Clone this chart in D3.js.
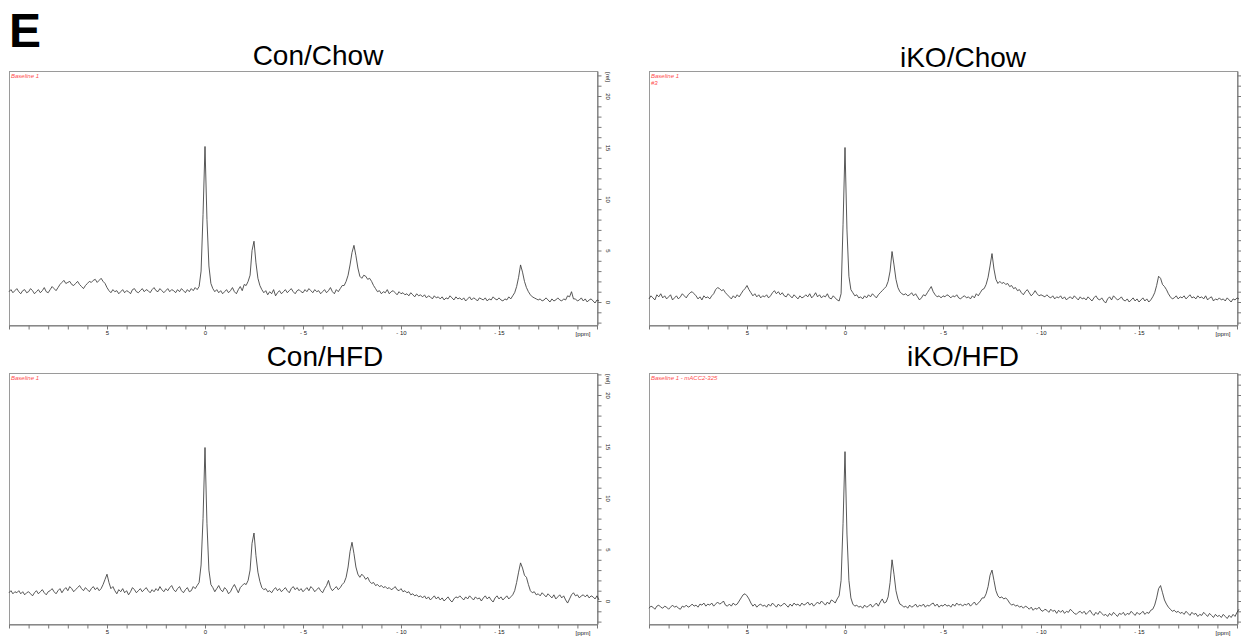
<!DOCTYPE html>
<html><head><meta charset="utf-8">
<script src="https://cdn.jsdelivr.net/npm/d3@7"></script>
<style>html,body{margin:0;padding:0;background:#fff;}svg{display:block;}</style>
</head><body>
<svg id="chart" width="1241" height="638"></svg>
<script>
// ---- data ----
const panelLetter = "E";
const titles = ["Con/Chow", "iKO/Chow", "Con/HFD", "iKO/HFD"];
const notes = [["Baseline 1"], ["Baseline 1", "#3"], ["Baseline 1"], ["Baseline 1 - mACC2-325"]];
const ppmStart = 10;      // first sample (ppm)
const ppmStep = 0.1;      // spacing between samples (ppm)
const xTickLabels = [5, 0, -5, -10, -15];
const yTickLabels = [0, 5, 10, 15, 20];
const xUnit = "[ppm]";
const yUnit = "[rel]";

const conChow = [
1.0,1.2,0.9,1.1,1.3,1.0,0.8,1.1,1.2,0.9,
1.0,1.3,1.1,0.8,1.0,1.2,0.9,1.1,1.4,1.0,
0.9,1.2,1.5,1.3,1.1,1.4,1.7,1.9,2.1,1.8,
1.9,2.0,1.7,1.6,1.8,2.0,1.7,1.5,1.3,1.6,
1.8,2.0,1.9,2.1,2.2,1.9,2.1,2.3,2.0,1.8,
1.4,1.1,0.9,1.2,1.0,1.1,0.8,1.0,1.2,0.9,
1.1,1.0,0.8,1.2,1.3,1.0,0.9,1.1,1.3,1.0,
1.2,1.1,0.9,1.2,1.4,1.1,1.0,1.3,1.1,0.9,
1.1,1.3,1.0,1.2,1.1,0.9,1.2,1.0,1.3,1.1,
0.9,1.2,1.0,1.3,1.1,1.4,1.2,1.5,3.0,8.5,
15.1,
8.0,3.5,1.8,1.3,1.0,1.2,0.9,1.1,0.8,1.0,
1.2,0.9,1.1,1.4,1.0,0.8,1.2,1.5,1.1,1.7,
1.6,2.0,2.6,5.0,5.9,3.8,2.3,1.6,1.2,0.9,
1.1,0.7,1.0,0.8,1.2,0.6,0.9,1.1,0.8,1.0,
1.2,0.9,1.1,1.3,1.0,0.8,1.1,1.2,1.0,0.9,
1.2,1.0,1.3,1.1,0.9,1.2,1.0,1.1,0.8,1.0,
1.2,0.9,1.1,1.4,1.0,0.8,1.2,1.0,1.3,1.6,
1.6,2.0,2.6,3.6,4.8,5.5,4.5,3.3,2.5,2.3,
2.6,2.5,2.2,2.3,2.0,1.6,1.3,1.0,1.1,0.8,
1.0,0.9,1.2,0.8,1.0,1.1,0.9,0.7,1.0,0.8,
0.9,0.7,0.8,0.6,0.9,0.7,0.5,0.8,0.6,0.7,
0.5,0.7,0.4,0.6,0.5,0.3,0.6,0.4,0.5,0.3,
0.5,0.2,0.4,0.3,0.6,0.4,0.2,0.5,0.3,0.4,
0.2,0.4,0.1,0.3,0.5,0.2,0.4,0.3,0.1,0.4,
0.3,0.2,0.4,0.1,0.3,0.2,0.5,0.3,0.2,0.4,
0.2,0.1,0.3,0.2,0.5,0.3,0.6,0.9,1.5,2.4,
3.6,2.9,2.0,1.4,1.0,0.7,0.5,0.4,0.3,0.2,
0.3,0.1,0.2,0.4,0.2,0.0,0.3,0.1,0.2,0.4,
0.2,0.1,0.3,0.2,0.6,0.5,1.0,0.3,0.3,0.1,
0.2,0.4,0.1,0.3,0.0,0.2,0.3,0.1,-0.1,0.2,0.1];

const ikoChow = [
0.3,0.6,0.4,0.2,0.7,0.5,0.8,0.4,0.6,0.3,
0.5,0.7,0.2,0.4,0.6,0.3,0.5,0.8,0.6,0.4,
0.7,0.9,1.0,0.8,0.6,0.3,0.5,0.2,0.6,0.4,
0.5,0.3,0.6,0.8,1.2,1.4,1.3,1.1,1.2,0.9,
0.7,0.5,0.3,0.6,0.4,0.7,0.5,0.8,1.1,1.3,
1.6,1.2,0.9,0.6,0.8,0.5,0.7,0.4,0.6,0.5,
0.7,0.4,0.6,0.9,1.1,0.8,1.0,0.7,0.9,0.6,
0.5,0.8,0.6,0.4,0.7,0.5,0.3,0.6,0.4,0.5,
0.7,0.5,0.8,0.4,0.6,0.9,0.5,0.7,0.4,0.6,
0.5,0.8,0.4,0.3,0.6,0.4,0.2,0.1,0.8,7.5,
15.0,
7.0,2.5,1.2,0.9,0.6,0.7,0.4,0.5,0.3,0.6,
0.4,0.7,0.5,0.8,0.6,0.4,0.7,0.9,1.1,1.3,
1.5,2.0,3.0,4.9,3.6,2.2,1.4,1.0,0.8,0.7,
0.8,0.6,0.7,0.9,0.6,0.8,0.5,0.2,0.4,0.7,
0.6,0.9,1.2,1.5,1.0,0.7,0.5,0.6,0.4,0.6,
0.5,0.7,0.6,0.4,0.6,0.5,0.7,0.4,0.3,0.5,
0.6,0.4,0.5,0.3,0.6,0.4,0.8,0.6,0.9,1.2,
1.3,1.7,2.4,3.5,4.7,3.2,2.2,1.8,2.0,1.8,
1.9,1.7,1.8,1.5,1.6,1.3,1.4,1.1,1.2,0.9,
0.7,1.0,1.2,0.9,0.6,0.8,1.1,0.8,0.6,0.7,
0.6,0.5,0.7,0.5,0.4,0.6,0.3,0.5,0.4,0.6,
0.3,0.5,0.2,0.4,0.5,0.3,0.6,0.4,0.2,0.5,
0.3,0.4,0.2,0.5,0.3,0.1,0.4,0.6,0.3,0.2,
0.4,0.1,-0.1,0.3,0.5,0.2,0.6,0.4,0.2,0.3,
0.5,0.2,0.1,0.3,0.0,0.2,0.4,0.1,0.3,0.0,
0.2,0.4,0.1,0.3,0.0,0.2,0.5,0.9,1.6,2.5,
2.3,1.7,1.5,1.2,0.8,0.5,0.3,0.4,0.6,0.3,
0.5,0.4,0.6,0.3,0.5,0.7,0.4,0.5,0.3,0.6,
0.4,0.5,0.3,0.6,0.2,0.4,0.5,0.1,0.3,0.2,
0.4,0.2,0.3,0.1,0.4,0.2,0.0,0.3,0.2,0.4,0.3];

const conHfd = [
0.8,1.0,0.7,0.9,0.8,1.0,0.7,0.9,0.6,0.8,
0.9,0.7,0.5,0.8,1.0,0.7,0.9,1.1,0.8,0.6,
0.9,1.0,1.2,0.9,0.7,1.0,1.2,0.8,1.1,1.3,
1.0,1.4,1.2,0.9,1.1,1.3,1.5,1.2,1.0,1.3,
1.1,0.9,1.2,1.4,1.1,1.3,1.0,1.2,1.6,2.1,
2.6,1.8,1.2,1.4,1.0,0.7,1.1,0.9,1.2,0.8,
1.0,0.6,0.9,1.3,1.1,0.8,1.0,1.2,0.9,1.1,
1.3,1.0,0.8,1.1,0.9,1.2,1.0,1.4,1.1,0.9,
1.2,1.0,1.3,1.5,1.1,0.9,1.2,1.4,1.0,0.8,
1.1,1.3,0.9,1.0,1.4,1.2,1.5,1.8,3.5,8.0,
14.9,
7.5,3.0,1.6,1.3,0.9,1.2,1.5,1.1,0.9,1.3,
1.1,0.7,0.9,1.3,1.6,1.2,0.8,1.3,1.5,1.7,
1.6,2.0,3.0,5.6,6.6,4.4,2.8,1.9,1.3,1.1,
1.2,0.9,1.0,0.8,1.1,1.3,1.0,1.2,0.9,1.1,
1.3,1.0,0.8,1.2,1.4,1.1,1.3,1.0,1.2,0.9,
1.1,1.3,1.0,1.4,1.2,0.9,1.1,1.3,1.0,0.8,
1.2,1.5,2.0,1.3,1.0,1.2,1.4,1.1,1.3,1.6,
1.8,2.3,3.3,4.8,5.7,4.6,3.3,2.6,2.3,2.6,
2.4,2.1,2.3,1.9,1.7,1.8,1.5,1.6,1.4,1.5,
1.3,1.4,1.2,1.3,1.1,1.2,1.4,1.1,1.0,1.2,
0.9,1.0,0.8,0.9,0.6,0.7,0.5,0.6,0.4,0.5,
0.3,0.5,0.2,0.4,0.1,0.3,0.5,0.2,0.4,0.1,
0.3,0.0,0.2,0.4,0.1,-0.1,0.2,0.4,0.3,0.5,
0.3,0.1,0.4,0.2,0.5,0.3,0.1,0.4,0.2,0.3,
0.0,0.3,0.5,0.2,0.4,0.1,-0.1,0.3,0.5,0.2,
0.4,0.1,0.3,0.5,0.2,0.4,0.6,1.0,1.8,2.8,
3.7,3.2,2.5,2.3,1.6,1.0,0.8,0.9,0.6,0.7,
0.5,0.8,0.6,0.4,0.7,0.5,0.3,0.6,0.2,0.4,
0.6,0.3,0.5,0.1,-0.2,0.2,0.6,0.8,0.5,0.6,
0.3,0.5,0.6,0.4,0.6,0.3,0.5,0.4,0.2,0.5,0.1];

const ikoHfd = [
-0.7,-0.5,-0.6,-0.8,-0.5,-0.4,-0.6,-0.7,-0.5,-0.6,
-0.8,-0.6,-0.4,-0.6,-0.5,-0.7,-0.8,-0.5,-0.6,-0.4,
-0.6,-0.5,-0.3,-0.5,-0.4,-0.6,-0.3,-0.4,-0.2,-0.5,
-0.3,-0.4,-0.2,-0.5,-0.3,-0.1,-0.3,-0.2,0.0,-0.4,
-0.5,-0.3,-0.5,-0.2,-0.4,-0.3,0.0,0.3,0.6,0.7,
0.5,0.2,-0.2,-0.5,-0.3,-0.6,-0.4,-0.3,-0.5,-0.4,
-0.6,-0.3,-0.5,-0.2,-0.4,-0.6,-0.3,-0.5,-0.4,-0.2,
-0.4,-0.6,-0.3,-0.5,-0.2,-0.4,-0.3,-0.5,-0.2,-0.4,
-0.3,-0.1,-0.4,-0.2,-0.5,-0.3,-0.1,-0.3,0.0,-0.2,
-0.4,-0.1,-0.3,0.1,0.0,-0.2,0.2,0.5,2.0,7.5,
14.5,
6.5,2.0,0.3,-0.3,-0.5,-0.4,-0.6,-0.5,-0.7,-0.4,
-0.6,-0.5,-0.3,-0.6,-0.4,-0.2,-0.5,-0.1,0.2,-0.2,
-0.1,0.4,1.8,4.0,2.6,1.0,0.2,-0.3,-0.4,-0.6,
-0.5,-0.7,-0.4,-0.6,-0.5,-0.3,-0.6,-0.4,-0.5,-0.3,
-0.6,-0.4,-0.5,-0.3,-0.2,-0.5,-0.3,-0.6,-0.4,-0.5,
-0.3,-0.5,-0.4,-0.6,-0.3,-0.5,-0.2,-0.4,-0.3,-0.5,
-0.3,-0.4,-0.2,-0.5,-0.3,-0.1,-0.4,-0.2,0.0,0.3,
0.3,0.7,1.4,2.5,3.0,2.0,1.0,0.5,0.3,0.4,
0.2,0.3,0.1,-0.2,-0.4,-0.3,-0.5,-0.4,-0.6,-0.5,
-0.7,-0.5,-0.6,-0.8,-0.6,-0.9,-0.7,-0.8,-0.6,-0.9,
-1.0,-0.8,-0.9,-1.1,-0.8,-1.0,-0.9,-1.2,-0.9,-1.1,
-0.9,-1.2,-1.0,-1.1,-0.8,-1.0,-1.2,-1.3,-1.1,-1.0,
-1.2,-1.0,-1.3,-1.1,-0.9,-1.2,-1.4,-1.1,-1.3,-1.0,
-1.2,-1.4,-1.3,-1.5,-1.2,-1.4,-1.1,-1.3,-1.5,-1.2,
-1.3,-1.1,-1.4,-1.2,-1.3,-1.0,-1.2,-1.4,-1.1,-1.3,
-1.2,-1.0,-1.3,-1.1,-1.2,-0.9,-0.8,-0.4,0.3,1.2,
1.5,0.8,0.1,-0.3,-0.6,-0.8,-1.0,-0.9,-1.1,-1.0,
-1.2,-1.1,-1.3,-1.0,-1.2,-1.4,-1.1,-1.3,-1.2,-1.5,
-1.3,-1.4,-1.1,-1.3,-1.5,-1.2,-1.4,-1.6,-1.3,-1.5,
-1.4,-1.6,-1.3,-1.5,-1.7,-1.4,-1.6,-1.3,-1.5,-1.1,-0.8];

const spectra = [conChow, ikoChow, conHfd, ikoHfd];

// ---- layout ----
const colLeft = [9, 649];
const rowTop = [71, 373];
const rowBottom = [325, 624];
const rowZero = [302, 601];
const pxPerUnit = 10.3;
const pw = 588;
const xDomain = [10, -20];
const font = "Liberation Sans, Arial, sans-serif";

const svg = d3.select("#chart");

svg.append("text").attr("x", 9).attr("y", 47)
  .attr("font-family", font)
  .attr("font-weight", "bold").attr("font-size", 48).attr("fill", "#000")
  .text(panelLetter);

const titleCenter = [[318, 963], [325, 963]];
const titleBase = [[65, 67], [366, 366]];

spectra.forEach((data, k) => {
  const r = Math.floor(k / 2), c = k % 2;
  const left = colLeft[c], top = rowTop[r], bottom = rowBottom[r];
  const ph = bottom - top;
  const x = d3.scaleLinear().domain(xDomain).range([left, left + pw]);
  const y = d3.scaleLinear()
    .domain([(rowZero[r] - bottom) / pxPerUnit, (rowZero[r] - top) / pxPerUnit])
    .range([bottom, top]);
  const g = svg.append("g");

  // title
  svg.append("text").attr("x", titleCenter[r][c]).attr("y", titleBase[r][c])
    .attr("text-anchor", "middle")
    .attr("font-family", font)
    .attr("font-size", 28).attr("fill", "#000").text(titles[k]);

  // frame
  g.append("rect").attr("x", left + 0.5).attr("y", top + 0.5)
    .attr("width", pw).attr("height", ph)
    .attr("fill", "none").attr("stroke", "#9a9a9a").attr("stroke-width", 1);

  // x axis
  const xAxis = d3.axisBottom(x).tickValues(d3.range(10, -20.5, -1))
    .tickSize(4).tickSizeOuter(0)
    .tickFormat(d => xTickLabels.includes(d) ? (d < 0 ? "- " + (-d) : String(d)) : "");
  const xg = g.append("g").attr("transform", `translate(0,${bottom + 0.5})`).call(xAxis);
  xg.select(".domain").attr("stroke", "#777");
  xg.selectAll(".tick line").attr("stroke", "#777");
  xg.selectAll(".tick text").attr("font-size", 6).attr("fill", "#222")
    .attr("font-family", font).attr("y", 5).attr("dy", "0.71em");
  g.append("text").attr("x", left + pw - 14).attr("y", bottom + 10.5)
    .attr("text-anchor", "middle").attr("font-size", 6).attr("fill", "#222")
    .attr("font-family", font).text(xUnit);

  // y axis (right); its labels fall outside the page for the right column
  const showY = c === 0;
  const yAxis = d3.axisRight(y).tickValues(d3.range(-2, 23, 1))
    .tickSize(4).tickSizeOuter(0)
    .tickFormat(d => showY && yTickLabels.includes(d) ? String(d) : "");
  const yg = g.append("g").attr("transform", `translate(${left + pw + 0.5},0)`).call(yAxis);
  yg.select(".domain").attr("stroke", "#777");
  yg.selectAll(".tick line").attr("stroke", "#777");
  yg.selectAll(".tick text").attr("font-size", 6).attr("fill", "#222")
    .attr("font-family", font)
    .attr("x", 0).attr("dy", 0).attr("text-anchor", "middle")
    .attr("transform", "translate(8,0) rotate(90)");
  if (showY) {
    g.append("text").attr("font-size", 6).attr("fill", "#222")
      .attr("font-family", font)
      .attr("text-anchor", "middle")
      .attr("transform", `translate(${left + pw + 8.5},${top + 6}) rotate(90)`)
      .text(yUnit);
  }

  // notes (red)
  notes[k].forEach((t, j) => {
    g.append("text").attr("x", left + 2).attr("y", top + 7 + j * 6.5)
      .attr("font-size", 6).attr("font-style", "italic").attr("fill", "#ff4d4d")
      .attr("font-family", font).text(t);
  });

  // spectrum
  const line = d3.line()
    .x((d, i) => x(ppmStart - i * ppmStep))
    .y(d => y(d));
  g.append("path").datum(data).attr("d", line)
    .attr("fill", "none").attr("stroke", "#3a3a3a").attr("stroke-width", 0.85)
    .attr("stroke-linejoin", "round");
});
</script>
</body></html>
